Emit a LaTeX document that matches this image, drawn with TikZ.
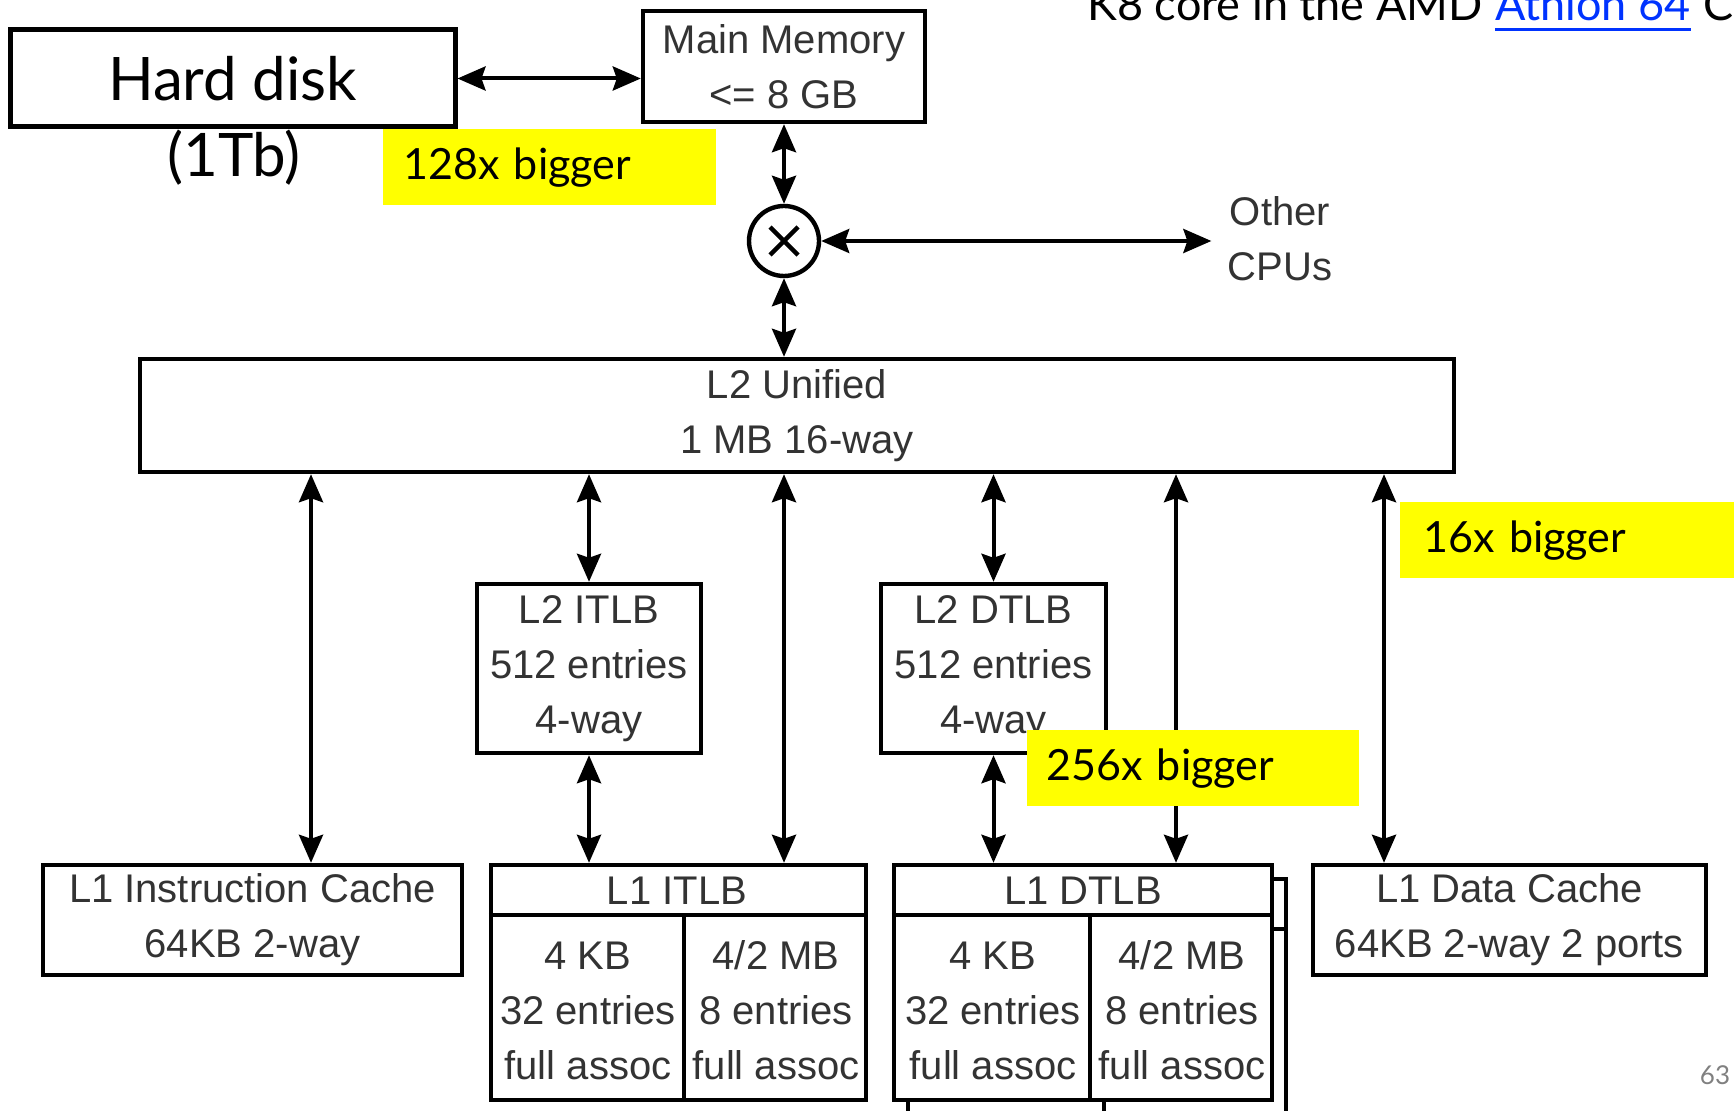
\documentclass[tikz,border=0pt]{standalone}
\usepackage{fontspec}
\setmainfont{Liberation Sans}
\newfontfamily\slidefont{Lato}
\usetikzlibrary{arrows.meta}
\definecolor{diagtext}{HTML}{333333}
\definecolor{linkblue}{HTML}{0033FF}
\definecolor{hilite}{HTML}{FFFF00}
\definecolor{pagenum}{HTML}{808080}

\begin{document}
\begin{tikzpicture}[x=0.5pt,y=-0.5pt,
  box/.style={draw=black, line width=2.2pt, fill=white, inner sep=0pt,
    text=diagtext, font=\fontsize{20}{27.5}\selectfont, align=center},
  lbl/.style={inner sep=0pt, text=diagtext,
    font=\fontsize{20}{27.5}\selectfont, align=center},
  rule/.style={line width=2.2pt},
  bi/.style={line width=2pt,
    {Stealth[length=14pt,width=12pt,inset=2pt]}-{Stealth[length=14pt,width=12pt,inset=2pt]}},
  note/.style={fill=hilite, anchor=north west, inner ysep=0pt,
    minimum height=38pt, align=left, text=black,
    font=\slidefont\fontsize{21.5}{26}\selectfont},
  slide/.style={inner sep=0pt, text=black,
    font=\slidefont\fontsize{30}{36}\selectfont},
  titletext/.style={inner sep=0pt, anchor=base west, text=black,
    font=\slidefont\fontsize{22.5}{27}\selectfont},
]
\useasboundingbox (0,0) rectangle (1734,1111);
\clip (0,0) rectangle (1734,1111);

% slide title, cut by the top edge
\node[titletext] (title) at (1087,21) {K8 core in the AMD};
\node[titletext, text=linkblue] (titlelink) at ([xshift=6pt]title.base east) {Athlon 64};
\node[titletext] (titleend) at ([xshift=6pt]titlelink.base east) {CPU};
\draw[linkblue, line width=1.5pt] ([yshift=-4.5pt]titlelink.base west) -- ([yshift=-4.5pt]titlelink.base east);

% disk and main memory
\node[box, line width=2.5pt, text=black, font=\slidefont\fontsize{30}{36}\selectfont,
  minimum width=222.5pt, minimum height=48.5pt] (hd) at (232.5,78.5) {Hard disk};
\node[slide] (hdsize) at (234,158) {(1Tb)};
\node[box, minimum width=141pt, minimum height=55.5pt] (mm) at (784,66.5) {Main Memory\\<= 8 GB};
\draw[bi] (hd.east) -- (hd.east -| mm.west);

% crossbar to other CPUs
\node[circle, draw, line width=2.2pt, minimum size=35pt, inner sep=0pt] (xbar) at (784,241) {};
\draw[rule] ([shift={(-14,-14)}]xbar.center) -- ([shift={(14,14)}]xbar.center);
\draw[rule] ([shift={(-14,14)}]xbar.center) -- ([shift={(14,-14)}]xbar.center);
\node[lbl, inner xsep=8pt] (cpus) at (1280,238.5) {Other\\CPUs};
\draw[bi] (mm.south) -- (xbar.north);
\draw[bi] (xbar.east) -- (xbar.east -| cpus.west);

% unified L2
\node[box, minimum width=657pt, minimum height=56.5pt] (l2) at (797,415.5) {L2 Unified\\1 MB 16-way};
\draw[bi] (xbar.south) -- (l2.north -| xbar);

% second-level TLBs
\node[box, minimum width=112pt, minimum height=84.5pt] (l2itlb) at (589,668.5) {L2 ITLB\\512 entries\\4-way};
\node[box, minimum width=112.5pt, minimum height=84.5pt] (l2dtlb) at (993.5,668.5) {L2 DTLB\\512 entries\\4-way};

% first-level caches
\node[box, minimum width=209.5pt, minimum height=55pt] (l1icache) at (252.5,920) {L1 Instruction Cache\\64KB 2-way};
\node[box, minimum width=196.5pt, minimum height=55pt] (l1dcache) at (1509.5,920) {L1 Data Cache\\64KB 2-way 2 ports};

% L1 ITLB: header plus two columns
\node[box, minimum width=187.5pt, minimum height=117.5pt] (l1itlb) at (678.5,982.5) {};
\draw[rule] ([yshift=-26pt]l1itlb.north west) -- ([yshift=-26pt]l1itlb.north east);
\draw[rule] ([xshift=97.5pt,yshift=-26pt]l1itlb.north west) -- ([xshift=97.5pt]l1itlb.south west);
\node[lbl] (l1itlbname) at (677,891) {L1 ITLB};
\node[lbl] (l1itlbsmall) at (588,1010.5) {4 KB\\32 entries\\full assoc};
\node[lbl] (l1itlblarge) at (776,1010.5) {4/2 MB\\8 entries\\full assoc};

% L1 DTLB: second copy behind, then the front one
\node[box, minimum width=189pt, minimum height=117.5pt] (l1dtlbback) at (1097,996.5) {};
\draw[rule] ([yshift=-26pt]l1dtlbback.north west) -- ([yshift=-26pt]l1dtlbback.north east);
\draw[rule] ([xshift=99pt,yshift=-26pt]l1dtlbback.north west) -- ([xshift=99pt]l1dtlbback.south west);
\node[box, minimum width=189pt, minimum height=117.5pt] (l1dtlb) at (1083,982.5) {};
\draw[rule] ([yshift=-26pt]l1dtlb.north west) -- ([yshift=-26pt]l1dtlb.north east);
\draw[rule] ([xshift=99pt,yshift=-26pt]l1dtlb.north west) -- ([xshift=99pt]l1dtlb.south west);
\node[lbl] (l1dtlbname) at (1083,891) {L1 DTLB};
\node[lbl] (l1dtlbsmall) at (993,1010.5) {4 KB\\32 entries\\full assoc};
\node[lbl] (l1dtlblarge) at (1182,1010.5) {4/2 MB\\8 entries\\full assoc};

% ports on the L2 bottom edge
\coordinate (icport) at (311,0);
\coordinate (dtport) at (1176,0);
\coordinate (dcport) at (1384,0);

% L2 to the level below
\draw[bi] (l2.south -| icport) -- (l1icache.north -| icport);
\draw[bi] (l2.south -| l2itlb.north) -- (l2itlb.north);
\draw[bi] (l2.south -| xbar) -- (l1itlb.north -| xbar);
\draw[bi] (l2.south -| l2dtlb.north) -- (l2dtlb.north);
\draw[bi] (l2.south -| dtport) -- (l1dtlb.north -| dtport);
\draw[bi] (l2.south -| dcport) -- (l1dcache.north -| dcport);
\draw[bi] (l2itlb.south) -- (l1itlb.north -| l2itlb.south);
\draw[bi] (l2dtlb.south) -- (l1dtlb.north -| l2dtlb.south);

% size ratios
\node[note, minimum width=166.5pt, inner xsep=10pt, text width=146.5pt] (r128) at (383,129) {128x bigger};
\node[note, minimum width=167pt, inner xsep=11.5pt, text width=144pt] (r16) at (1400,502) {16x bigger};
\node[note, minimum width=166pt, inner xsep=9.5pt, text width=147pt] (r256) at (1027,730) {256x bigger};

% page number
\node[inner sep=0pt, text=pagenum, font=\slidefont\fontsize{13}{15}\selectfont] (page) at (1715,1075) {63};
\end{tikzpicture}
\end{document}
